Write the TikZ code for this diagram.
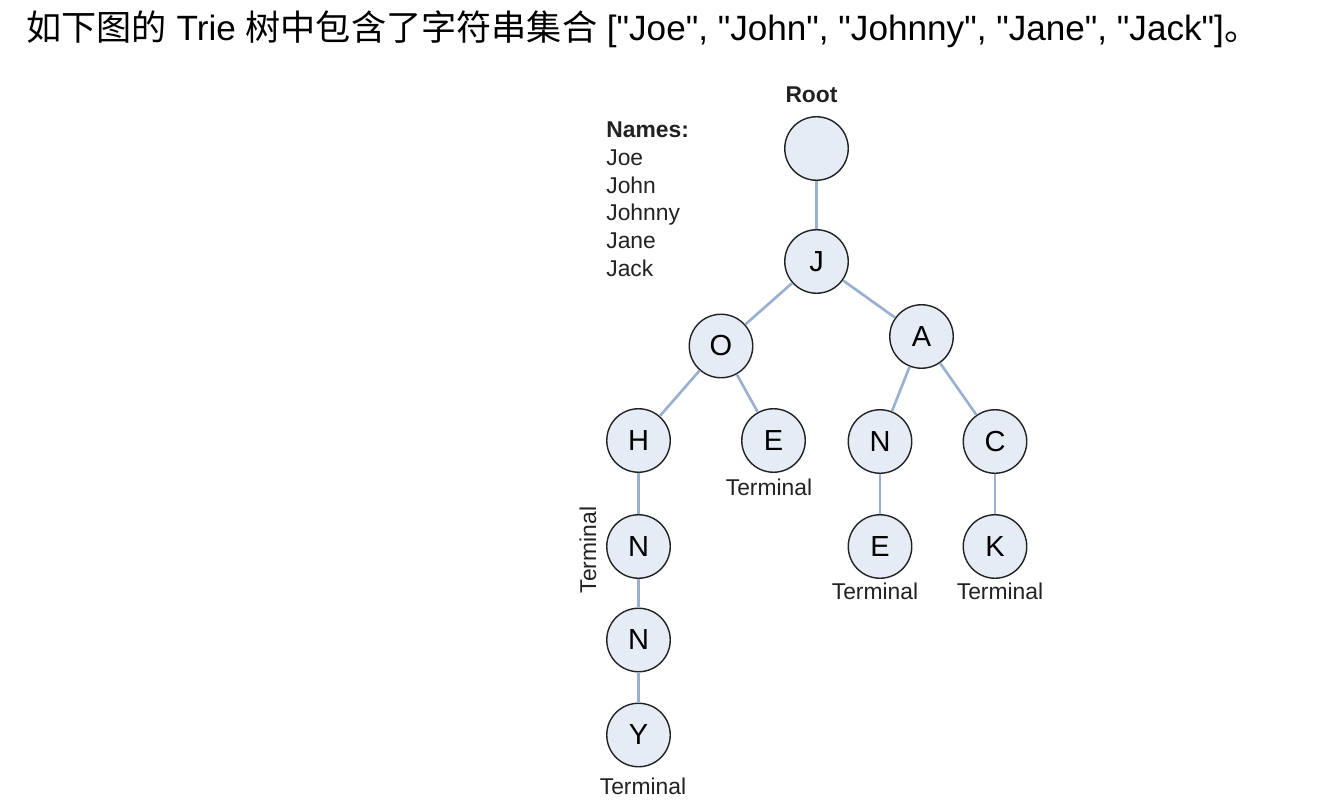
\documentclass[tikz,border=0pt]{standalone}
\usepackage{fontspec}
\setmainfont[Ligatures=TeXOff]{Liberation Sans}
\newfontfamily\cjk{Noto Sans CJK SC}
\definecolor{trieFill}{HTML}{E6ECF6}
\definecolor{trieEdge}{HTML}{9AB0D0}
\definecolor{trieInk}{HTML}{222222}
\tikzset{
  trie/.style={circle, draw=trieInk, line width=0.8pt, fill=trieFill,
              minimum size=1.27cm, inner sep=0pt, font=\fontsize{16.5}{19}\selectfont},
  link/.style={draw=trieEdge, line width=1.5pt},
  lbl/.style={font=\fontsize{13}{15}\selectfont, text=trieInk, inner sep=0pt},
  title/.style={font=\fontsize{20}{24}\selectfont, inner sep=0pt, anchor=base west},
}

\begin{document}
\begin{tikzpicture}
        \useasboundingbox[fill=white] (0,0) rectangle (26.36,-16.2);
        \node[title] (head) at (0.52,-0.82){{\cjk 如下图的} Trie {\cjk 树中包含了字符串集合} ["Joe", "John", "Johnny", "Jane", "Jack"]{\cjk 。}};
        \node[trie] (root) at (16.33,-2.97){};
        \node[trie] (j) at (16.33,-5.23){J};
        \node[trie] (o) at (14.42,-6.92){O};
        \node[trie] (a) at (18.43,-6.73){A};
        \node[trie] (h) at (12.77,-8.81){H};
        \node[trie] (oe) at (15.47,-8.81){E};
        \node[trie] (an) at (17.60,-8.83){N};
        \node[trie] (ac) at (19.90,-8.83){C};
        \node[trie] (hn) at (12.77,-10.93){N};
        \node[trie] (ane) at (17.60,-10.93){E};
        \node[trie] (ack) at (19.90,-10.93){K};
        \node[trie] (hnn) at (12.77,-12.80){N};
        \node[trie] (y) at (12.77,-14.70){Y};
        \draw[link](root)--(j);\draw[link](j)--(o);\draw[link](j)--(a);
        \draw[link](o)--(h);\draw[link](o)--(oe);\draw[link](a)--(an);
        \draw[link](a)--(ac);\draw[link](h)--(hn);\draw[link](an)--(ane);
        \draw[link](ac)--(ack);\draw[link](hn)--(hnn);\draw[link](hnn)--(y);
        \node[lbl,font=\fontsize{13}{15}\bfseries] (rootlbl) at (16.23,-1.90){Root};
        \node[lbl,anchor=base west,font=\fontsize{13}{15}\bfseries] (names) at (12.12,-2.76){Names:};
        \foreach \nm [count=\i] in {Joe,John,Johnny,Jane,Jack}
          \node[lbl,anchor=base west] (name\i) at (12.12,-2.76-0.552*\i){\nm};
        \node[lbl] (termoe) at (15.38,-9.74){Terminal};
        \node[lbl] (termane) at (17.50,-11.83){Terminal};
        \node[lbl] (termack) at (20.00,-11.83){Terminal};
        \node[lbl] (termy) at (12.86,-15.73){Terminal};
        \node[lbl,rotate=90] (termhn) at (11.76,-11.00){Terminal};
      \end{tikzpicture}
\end{document}
